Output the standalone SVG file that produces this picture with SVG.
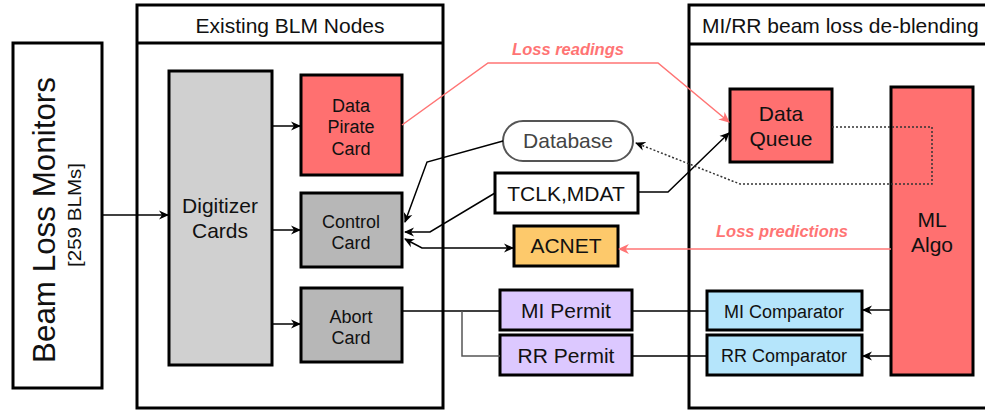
<svg xmlns="http://www.w3.org/2000/svg" width="985" height="410" viewBox="0 0 985 410">
<defs>
<marker id="ab" viewBox="0 0 10 10" refX="9" refY="5" markerWidth="10" markerHeight="10" markerUnits="userSpaceOnUse" orient="auto-start-reverse">
<path d="M0,0.5 L10,5 L0,9.5 L3,5 z" fill="#000"/>
</marker>
<marker id="ar" viewBox="0 0 10 10" refX="9" refY="5" markerWidth="11" markerHeight="11" markerUnits="userSpaceOnUse" orient="auto">
<path d="M0,0.5 L10,5 L0,9.5 L3,5 z" fill="#ff7474"/>
</marker>
</defs>
<style>
text{font-family:"Liberation Sans",Arial,sans-serif;fill:#111;text-anchor:middle}
.box{stroke:#000;stroke-width:3}
.frame{fill:#fff;stroke:#000;stroke-width:3}
.red{fill:#ff7070}
.gray{fill:#b7b7b7}
.lgray{fill:#d0d0d0}
.lav{fill:#dcc8ff}
.blue{fill:#b5e5fb}
.org{fill:#fdc96b}
.c{fill:none;stroke:#000;stroke-width:1.5}
.rl{fill:none;stroke:#ff7474;stroke-width:1.5}
.dot{fill:none;stroke:#333;stroke-width:1.5;stroke-dasharray:2 2}
.lbl{fill:#ff7474;font-weight:bold;font-style:italic;font-size:16.5px}
.f18{font-size:18px}
.f21{font-size:21px}
</style>
<rect width="985" height="410" fill="#fff"/>

<g id="blm">
<rect x="13" y="43" width="89" height="345" class="frame"/>
<text transform="translate(55,220) rotate(-90)" font-size="31" textLength="286" lengthAdjust="spacingAndGlyphs">Beam Loss Monitors</text>
<text transform="translate(81,215) rotate(-90)" font-size="18" textLength="104" lengthAdjust="spacingAndGlyphs">[259 BLMs]</text>
</g>

<g id="existing">
<rect x="137" y="5" width="306" height="403" class="frame"/>
<line x1="137" y1="43" x2="443" y2="43" stroke="#000" stroke-width="3"/>
<text x="290" y="33" class="f21">Existing BLM Nodes</text>
</g>

<g id="deblend">
<rect x="689" y="5" width="310" height="403" class="frame"/>
<line x1="689" y1="44" x2="985" y2="44" stroke="#000" stroke-width="3"/>
<text x="702" y="33" class="f21" style="text-anchor:start">MI/RR beam loss de-blending</text>
</g>

<g id="digitizer">
<rect x="169" y="71" width="103" height="294" class="box lgray"/>
<text x="220" y="213" class="f21">Digitizer</text>
<text x="220" y="238" class="f21">Cards</text>
</g>

<g id="pirate">
<rect x="301" y="75" width="101" height="100" class="box red"/>
<text x="351" y="112" class="f18">Data</text>
<text x="351" y="133" class="f18">Pirate</text>
<text x="351" y="155" class="f18">Card</text>
</g>

<g id="control">
<rect x="301" y="193" width="101" height="74" class="box gray"/>
<text x="351" y="228" class="f18">Control</text>
<text x="351" y="249" class="f18">Card</text>
</g>

<g id="abort">
<rect x="301" y="288" width="101" height="74" class="box gray"/>
<text x="351" y="323" class="f18">Abort</text>
<text x="351" y="344" class="f18">Card</text>
</g>

<g id="database">
<rect x="503" y="121" width="130" height="40" rx="20" ry="20" fill="#fff" stroke="#555" stroke-width="2"/>
<text x="568" y="148" class="f21" style="fill:#444">Database</text>
</g>

<g id="tclk">
<rect x="495" y="173" width="143" height="40" class="box" fill="#fff"/>
<text x="566" y="201" class="f21">TCLK,MDAT</text>
</g>

<g id="acnet">
<rect x="514" y="226" width="104" height="40" class="box org"/>
<text x="566" y="253" class="f21">ACNET</text>
</g>

<g id="mipermit">
<rect x="500" y="290" width="132" height="40" class="box lav"/>
<text x="566" y="318" class="f21">MI Permit</text>
</g>

<g id="rrpermit">
<rect x="500" y="335" width="132" height="40" class="box lav"/>
<text x="566" y="363" class="f21">RR Permit</text>
</g>

<g id="queue">
<rect x="730" y="89" width="102" height="73" class="box red"/>
<text x="781" y="121" class="f21">Data</text>
<text x="781" y="146" class="f21">Queue</text>
</g>

<g id="mlalgo">
<rect x="891" y="87" width="82" height="288" class="box red"/>
<text x="932" y="227" class="f21">ML</text>
<text x="932" y="252" class="f21">Algo</text>
</g>

<g id="micomp">
<rect x="707" y="291" width="155" height="39" class="box blue"/>
<text x="784" y="318" class="f18">MI Comparator</text>
</g>

<g id="rrcomp">
<rect x="707" y="335" width="155" height="40" class="box blue"/>
<text x="784" y="362" class="f18">RR Comparator</text>
</g>

<g id="connectors">
<line x1="102" y1="215" x2="168" y2="215" class="c" marker-end="url(#ab)"/>
<line x1="272" y1="126" x2="300" y2="126" class="c" marker-end="url(#ab)"/>
<line x1="272" y1="230" x2="300" y2="230" class="c" marker-end="url(#ab)"/>
<line x1="272" y1="324" x2="300" y2="324" class="c" marker-end="url(#ab)"/>

<polyline points="503,141 427,162 405,222" class="c" marker-end="url(#ab)"/>
<polyline points="495,193 430,232 405,232" class="c" marker-end="url(#ab)"/>
<polyline points="405,239 422,248 513,248" class="c" marker-start="url(#ab)" marker-end="url(#ab)"/>
<polyline points="638,192 668,192 729,133" class="c" marker-end="url(#ab)"/>

<polyline points="832,127 932,127 932,184 740,184 636,143" class="dot" marker-end="url(#ab)"/>

<polyline points="402,125 488,63 658,63 729,122" class="rl" marker-end="url(#ar)"/>
<text x="568" y="55" class="lbl">Loss readings</text>
<line x1="891" y1="249" x2="619" y2="249" class="rl" marker-end="url(#ar)"/>
<text x="782" y="237" class="lbl">Loss predictions</text>

<line x1="402" y1="311" x2="500" y2="311" class="c"/>
<polyline points="462,311 462,356 500,356" fill="none" stroke="#555" stroke-width="1.5"/>
<line x1="632" y1="311" x2="707" y2="311" class="c"/>
<line x1="632" y1="356" x2="707" y2="356" class="c"/>
<line x1="891" y1="310" x2="863" y2="310" class="c" marker-end="url(#ab)"/>
<line x1="891" y1="356" x2="863" y2="356" class="c" marker-end="url(#ab)"/>
</g>
</svg>
